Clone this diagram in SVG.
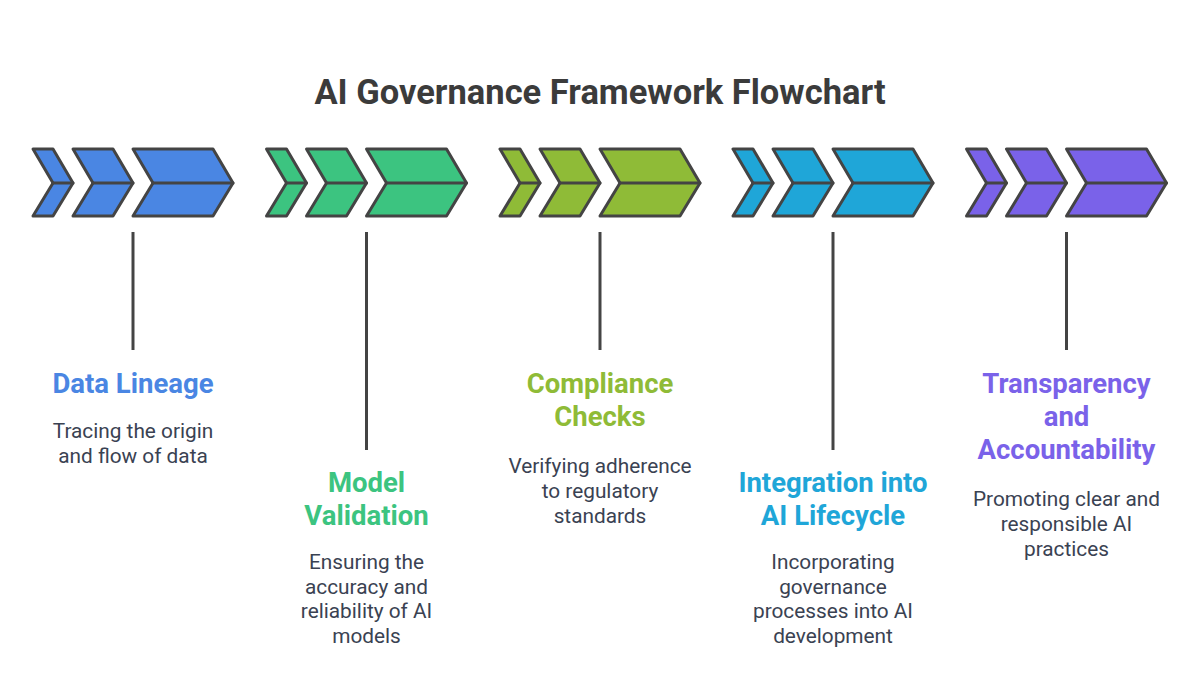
<svg xmlns="http://www.w3.org/2000/svg" width="1200" height="674" viewBox="0 0 1200 674">
<defs>
<style>
.chev{stroke:#444444;stroke-width:3;stroke-linejoin:round}
.mid{stroke:#444444;stroke-width:3;stroke-linecap:round;fill:none}
.conn{stroke:#444444;stroke-width:3;fill:none}
.title{font-family:Roboto,"Liberation Sans",sans-serif;font-weight:bold;font-size:34.5px;fill:#3b3b3b;text-anchor:middle}
.head{font-family:Roboto,"Liberation Sans",sans-serif;font-weight:bold;font-size:27.5px;text-anchor:middle}
.desc{font-family:Roboto,"Liberation Sans",sans-serif;font-size:20.8px;fill:#3a4252;text-anchor:middle}
.c1{fill:#4a86e3}.c2{fill:#3cc480}.c3{fill:#8fbb37}.c4{fill:#1fa6d8}.c5{fill:#7a62e9}
</style>
<g id="chevs">
<path class="chev" d="M0,149 H20 L40,183 L20,216 H0 L20,183 Z"/>
<path class="mid" d="M20,183 H40"/>
<path class="chev" d="M40,149 H80 L100,183 L80,216 H40 L60,183 Z"/>
<path class="mid" d="M60,183 H100"/>
<path class="chev" d="M100,149 H180 L200,183 L180,216 H100 L120,183 Z"/>
<path class="mid" d="M120,183 H200"/>
</g>
</defs>
<rect width="1200" height="674" fill="#ffffff"/>
<text class="title" x="600" y="104">AI Governance Framework Flowchart</text>

<g id="connectors">
<line class="conn" x1="133" y1="232" x2="133" y2="350"/>
<line class="conn" x1="366.5" y1="232" x2="366.5" y2="450"/>
<line class="conn" x1="600" y1="232" x2="600" y2="350"/>
<line class="conn" x1="833" y1="232" x2="833" y2="450"/>
<line class="conn" x1="1066.5" y1="232" x2="1066.5" y2="350"/>
</g>

<g id="node1">
<use href="#chevs" class="c1" x="33"/>
<text class="head" fill="#4a86e3" x="133" y="393">Data Lineage</text>
<text class="desc" x="133" y="438">Tracing the origin</text>
<text class="desc" x="133" y="463">and flow of data</text>
</g>
<g id="node2">
<use href="#chevs" class="c2" x="266.5"/>
<text class="head" fill="#3cc480" x="366.5" y="492">Model</text>
<text class="head" fill="#3cc480" x="366.5" y="525">Validation</text>
<text class="desc" x="366.5" y="569">Ensuring the</text>
<text class="desc" x="366.5" y="594">accuracy and</text>
<text class="desc" x="366.5" y="618">reliability of AI</text>
<text class="desc" x="366.5" y="643">models</text>
</g>
<g id="node3">
<use href="#chevs" class="c3" x="500"/>
<text class="head" fill="#8fbb37" x="600" y="393">Compliance</text>
<text class="head" fill="#8fbb37" x="600" y="426">Checks</text>
<text class="desc" x="600" y="473">Verifying adherence</text>
<text class="desc" x="600" y="498">to regulatory</text>
<text class="desc" x="600" y="523">standards</text>
</g>
<g id="node4">
<use href="#chevs" class="c4" x="733"/>
<text class="head" fill="#1fa6d8" x="833" y="492">Integration into</text>
<text class="head" fill="#1fa6d8" x="833" y="525">AI Lifecycle</text>
<text class="desc" x="833" y="569">Incorporating</text>
<text class="desc" x="833" y="594">governance</text>
<text class="desc" x="833" y="618">processes into AI</text>
<text class="desc" x="833" y="643">development</text>
</g>
<g id="node5">
<use href="#chevs" class="c5" x="966.5"/>
<text class="head" fill="#7a62e9" x="1066.5" y="393">Transparency</text>
<text class="head" fill="#7a62e9" x="1066.5" y="426">and</text>
<text class="head" fill="#7a62e9" x="1066.5" y="459">Accountability</text>
<text class="desc" x="1066.5" y="506">Promoting clear and</text>
<text class="desc" x="1066.5" y="531">responsible AI</text>
<text class="desc" x="1066.5" y="556">practices</text>
</g>
</svg>
